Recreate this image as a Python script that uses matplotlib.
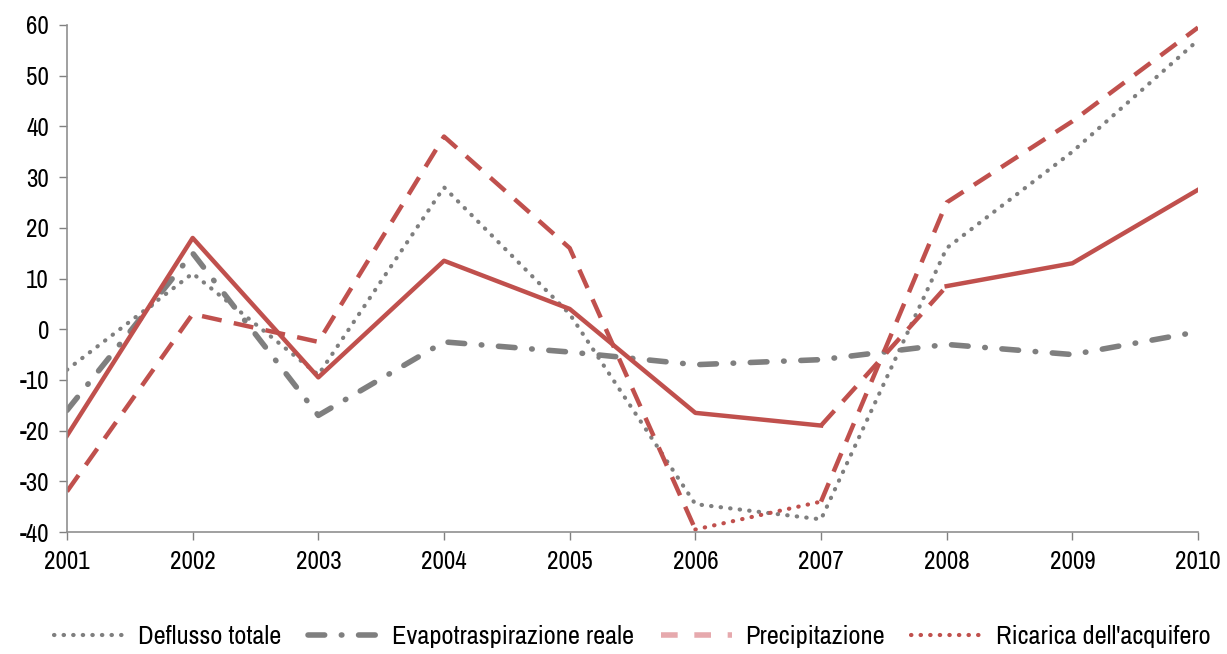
import numpy as np
import matplotlib.pyplot as plt
from matplotlib.lines import Line2D

plt.rcParams['font.family'] = ['Liberation Sans Narrow', 'Arial Narrow', 'Archivo Narrow',
                               'PT Sans Narrow', 'Roboto Condensed', 'Liberation Sans']
plt.rcParams['axes.unicode_minus'] = False

anni = np.arange(2001, 2011)
deflusso = [-8, 11, -9, 28, 3, -34.5, -37.5, 16, 35, 57]
evapotrasp = [-16, 15, -17, -2.5, -4.5, -7, -6, -3, -5, -0.5]
precipitazione = [-32, 3, -2.5, 38, 16, -39.5, -34, 25, 41, 59.5]
ricarica = [-21, 18, -9.5, 13.5, 4, -16.5, -19, 8.5, 13, 27.5]

rosso = '#C0504D'
rosa = '#E6A9AD'
grigio = '#7F7F7F'

fig = plt.figure(figsize=(12.27, 6.54), dpi=100)
ax = fig.add_axes([0.0546, 0.1865, 0.9218, 0.7753])

ax.plot(anni, deflusso, color=grigio, lw=3, linestyle=(0, (0.1, 2.2)),
        dash_capstyle='round')
ax.plot(anni, evapotrasp, color=grigio, lw=4, linestyle=(0, (3, 3, 0.1, 3)),
        dash_capstyle='round')

# precipitazione: tratteggiata, tratto 2006-2007 punteggiato
ax.plot(anni[:6], precipitazione[:6], color=rosso, lw=3.2, linestyle=(0, (4.5, 2.8)))
ax.plot(anni[5:7], precipitazione[5:7], color=rosso, lw=3, linestyle=(0, (0.1, 2.2)),
        dash_capstyle='round')
ax.plot(anni[6:], precipitazione[6:], color=rosso, lw=3.2, linestyle=(0, (4.5, 2.8)))

# ricarica: linea continua, tratto 2007-2008 tratteggiato
ax.plot(anni[:7], ricarica[:7], color=rosso, lw=3.2)
ax.plot(anni[6:8], ricarica[6:8], color=rosso, lw=3.2, linestyle=(0, (4.5, 2.8)))
ax.plot(anni[7:], ricarica[7:], color=rosso, lw=3.2)

ax.set_xlim(2001, 2010)
ax.set_ylim(-40, 60)
ax.set_xticks(anni)
ax.set_yticks(np.arange(-40, 61, 10))
ax.tick_params(axis='both', labelsize=18, color='#808080', length=6, width=1)
ax.tick_params(axis='x', pad=7)
ax.tick_params(axis='y', pad=7)
for s in ['top', 'right']:
    ax.spines[s].set_visible(False)
for s in ['left', 'bottom']:
    ax.spines[s].set_color('#909090')
    ax.spines[s].set_linewidth(1.2)

handles = [
    Line2D([], [], color=grigio, lw=3, linestyle=(0, (0.1, 2.2)), dash_capstyle='round'),
    Line2D([], [], color=grigio, lw=4, linestyle=(0, (3, 3, 0.1, 3)), dash_capstyle='round'),
    Line2D([], [], color=rosa, lw=4, linestyle=(0, (3, 3))),
    Line2D([], [], color=rosso, lw=3, linestyle=(0, (0.1, 2.2)), dash_capstyle='round'),
]
etichette = ['Deflusso totale', 'Evapotraspirazione reale', 'Precipitazione',
             "Ricarica dell'acquifero"]
fig.legend(handles, etichette, loc='center', bbox_to_anchor=(0.515, 0.027), ncol=4,
           frameon=False, fontsize=19, handlelength=2.7, columnspacing=1.0,
           handletextpad=0.5)

fig.savefig('out.png', dpi=100)
